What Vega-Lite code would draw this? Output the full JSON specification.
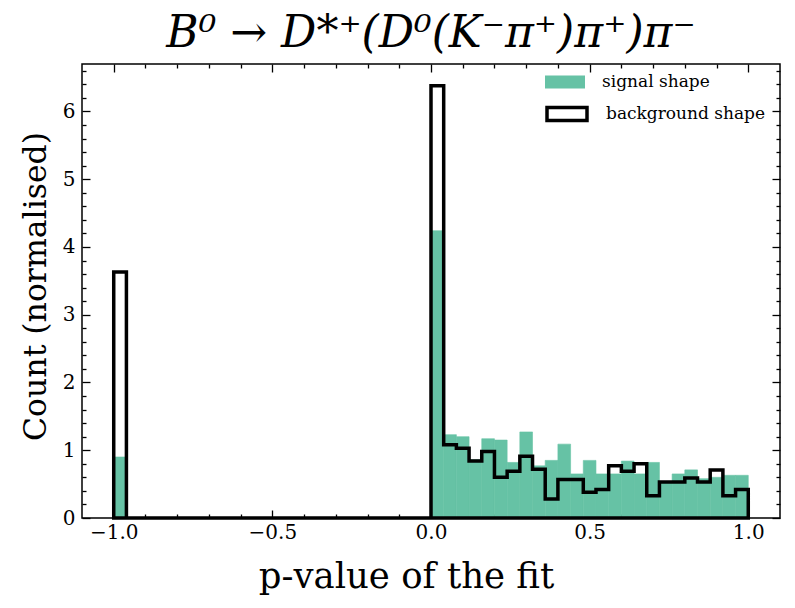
{
  "$schema": "https://vega.github.io/schema/vega-lite/v6.json",
  "width": 698,
  "height": 454,
  "autosize": "none",
  "padding": {"left": 82, "top": 64, "right": 15, "bottom": 90},
  "background": "white",
  "title": {
    "text": "B⁰ → D*⁺(D⁰(K⁻π⁺)π⁺)π⁻",
    "font": "DejaVu Serif",
    "fontStyle": "italic",
    "fontWeight": "normal",
    "fontSize": 44,
    "color": "black",
    "anchor": "middle",
    "baseline": "bottom",
    "offset": -39
  },
  "data": {
    "values": [
      {"lo": -1.00, "hi": -0.96, "signal": 0.90, "background": 3.63},
      {"lo": -0.96, "hi": -0.92, "signal": 0, "background": 0},
      {"lo": -0.92, "hi": -0.88, "signal": 0, "background": 0},
      {"lo": -0.88, "hi": -0.84, "signal": 0, "background": 0},
      {"lo": -0.84, "hi": -0.80, "signal": 0, "background": 0},
      {"lo": -0.80, "hi": -0.76, "signal": 0, "background": 0},
      {"lo": -0.76, "hi": -0.72, "signal": 0, "background": 0},
      {"lo": -0.72, "hi": -0.68, "signal": 0, "background": 0},
      {"lo": -0.68, "hi": -0.64, "signal": 0, "background": 0},
      {"lo": -0.64, "hi": -0.60, "signal": 0, "background": 0},
      {"lo": -0.60, "hi": -0.56, "signal": 0, "background": 0},
      {"lo": -0.56, "hi": -0.52, "signal": 0, "background": 0},
      {"lo": -0.52, "hi": -0.48, "signal": 0, "background": 0},
      {"lo": -0.48, "hi": -0.44, "signal": 0, "background": 0},
      {"lo": -0.44, "hi": -0.40, "signal": 0, "background": 0},
      {"lo": -0.40, "hi": -0.36, "signal": 0, "background": 0},
      {"lo": -0.36, "hi": -0.32, "signal": 0, "background": 0},
      {"lo": -0.32, "hi": -0.28, "signal": 0, "background": 0},
      {"lo": -0.28, "hi": -0.24, "signal": 0, "background": 0},
      {"lo": -0.24, "hi": -0.20, "signal": 0, "background": 0},
      {"lo": -0.20, "hi": -0.16, "signal": 0, "background": 0},
      {"lo": -0.16, "hi": -0.12, "signal": 0, "background": 0},
      {"lo": -0.12, "hi": -0.08, "signal": 0, "background": 0},
      {"lo": -0.08, "hi": -0.04, "signal": 0, "background": 0},
      {"lo": -0.04, "hi": 0.00, "signal": 0, "background": 0},
      {"lo": 0.00, "hi": 0.04, "signal": 4.24, "background": 6.38},
      {"lo": 0.04, "hi": 0.08, "signal": 1.23, "background": 1.08},
      {"lo": 0.08, "hi": 0.12, "signal": 1.20, "background": 1.03},
      {"lo": 0.12, "hi": 0.16, "signal": 0.86, "background": 0.84},
      {"lo": 0.16, "hi": 0.20, "signal": 1.17, "background": 0.98},
      {"lo": 0.20, "hi": 0.24, "signal": 1.15, "background": 0.60},
      {"lo": 0.24, "hi": 0.28, "signal": 0.82, "background": 0.69},
      {"lo": 0.28, "hi": 0.32, "signal": 1.27, "background": 0.91},
      {"lo": 0.32, "hi": 0.36, "signal": 0.77, "background": 0.72},
      {"lo": 0.36, "hi": 0.40, "signal": 0.85, "background": 0.28},
      {"lo": 0.40, "hi": 0.44, "signal": 1.09, "background": 0.57},
      {"lo": 0.44, "hi": 0.48, "signal": 0.65, "background": 0.57},
      {"lo": 0.48, "hi": 0.52, "signal": 0.85, "background": 0.38},
      {"lo": 0.52, "hi": 0.56, "signal": 0.65, "background": 0.42},
      {"lo": 0.56, "hi": 0.60, "signal": 0.65, "background": 0.77},
      {"lo": 0.60, "hi": 0.64, "signal": 0.84, "background": 0.69},
      {"lo": 0.64, "hi": 0.68, "signal": 0.65, "background": 0.80},
      {"lo": 0.68, "hi": 0.72, "signal": 0.82, "background": 0.33},
      {"lo": 0.72, "hi": 0.76, "signal": 0.52, "background": 0.53},
      {"lo": 0.76, "hi": 0.80, "signal": 0.65, "background": 0.53},
      {"lo": 0.80, "hi": 0.84, "signal": 0.71, "background": 0.59},
      {"lo": 0.84, "hi": 0.88, "signal": 0.58, "background": 0.53},
      {"lo": 0.88, "hi": 0.92, "signal": 0.60, "background": 0.71},
      {"lo": 0.92, "hi": 0.96, "signal": 0.63, "background": 0.33},
      {"lo": 0.96, "hi": 1.00, "signal": 0.63, "background": 0.42}
    ]
  },
  "resolve": {"axis": {"x": "independent", "y": "independent"}},
  "layer": [
    {
      "mark": {"type": "bar", "stroke": "#66c2a5", "strokeWidth": 0.6},
      "encoding": {
        "x": {
          "field": "lo",
          "type": "quantitative",
          "scale": {"domain": [-1.1, 1.1], "nice": false, "zero": false},
          "axis": {
            "orient": "bottom",
            "title": "p-value of the fit",
            "titleFontSize": 35.5,
            "titlePadding": 13,
            "titleX": 324,
            "values": [-1.0, -0.9, -0.8, -0.7, -0.6, -0.5, -0.4, -0.3, -0.2, -0.1, 0.0, 0.1, 0.2, 0.3, 0.4, 0.5, 0.6, 0.7, 0.8, 0.9, 1.0],
            "labelExpr": "abs(datum.value * 2 - round(datum.value * 2)) < 0.001 ? format(datum.value, '.1f') : ''",
            "tickSize": {"condition": {"test": "abs(datum.value * 2 - round(datum.value * 2)) < 0.001", "value": -8}, "value": -4},
            "labelPadding": 12,
            "labelFontSize": 20
          }
        },
        "x2": {"field": "hi"},
        "y": {
          "field": "signal",
          "type": "quantitative",
          "scale": {"domain": [0, 6.7], "nice": false},
          "axis": {
            "orient": "left",
            "title": "Count (normalised)",
            "titleFontSize": 31.5,
            "titlePadding": 10,
            "titleY": 222,
            "values": [0, 0.2, 0.4, 0.6, 0.8, 1, 1.2, 1.4, 1.6, 1.8, 2, 2.2, 2.4, 2.6, 2.8, 3, 3.2, 3.4, 3.6, 3.8, 4, 4.2, 4.4, 4.6, 4.8, 5, 5.2, 5.4, 5.6, 5.8, 6, 6.2, 6.4, 6.6],
            "labelExpr": "abs(datum.value - round(datum.value)) < 0.001 ? format(datum.value, '.0f') : ''",
            "tickSize": {"condition": {"test": "abs(datum.value - round(datum.value)) < 0.001", "value": -8}, "value": -4},
            "labelPadding": 15,
            "labelFontSize": 20
          }
        },
        "y2": {"datum": 0},
        "fill": {
          "datum": "signal shape",
          "type": "nominal",
          "scale": {"domain": ["signal shape"], "range": ["#66c2a5"]},
          "legend": {
            "title": null,
            "orient": "none",
            "legendX": 473,
            "legendY": 8,
            "padding": 0,
            "labelFont": "DejaVu Serif",
            "labelFontSize": 17,
            "labelColor": "black",
            "symbolType": "M-2,-0.64H2V0.64H-2Z",
            "symbolSize": 400,
            "labelOffset": 27,
            "symbolOpacity": 1,
            "symbolStrokeWidth": 0
          }
        }
      }
    },
    {
      "transform": [{"fold": ["lo", "hi"], "as": ["edge", "x"]}],
      "mark": {"type": "area", "fill": "white", "fillOpacity": 0, "strokeWidth": 3.5, "strokeJoin": "miter", "interpolate": "linear"},
      "encoding": {
        "x": {
          "field": "x",
          "type": "quantitative",
          "axis": {
            "orient": "top",
            "title": null,
            "labels": false,
            "values": [-1.0, -0.9, -0.8, -0.7, -0.6, -0.5, -0.4, -0.3, -0.2, -0.1, 0.0, 0.1, 0.2, 0.3, 0.4, 0.5, 0.6, 0.7, 0.8, 0.9, 1.0],
            "tickSize": {"condition": {"test": "abs(datum.value * 2 - round(datum.value * 2)) < 0.001", "value": -8}, "value": -4}
          }
        },
        "y": {
          "field": "background",
          "type": "quantitative",
          "stack": null,
          "axis": {
            "orient": "right",
            "title": null,
            "labels": false,
            "values": [0, 0.2, 0.4, 0.6, 0.8, 1, 1.2, 1.4, 1.6, 1.8, 2, 2.2, 2.4, 2.6, 2.8, 3, 3.2, 3.4, 3.6, 3.8, 4, 4.2, 4.4, 4.6, 4.8, 5, 5.2, 5.4, 5.6, 5.8, 6, 6.2, 6.4, 6.6],
            "tickSize": {"condition": {"test": "abs(datum.value - round(datum.value)) < 0.001", "value": -8}, "value": -4}
          }
        },
        "stroke": {
          "datum": "background shape",
          "type": "nominal",
          "scale": {"domain": ["background shape"], "range": ["black"]},
          "legend": {
            "title": null,
            "orient": "none",
            "legendX": 473,
            "legendY": 38,
            "padding": 0,
            "labelFont": "DejaVu Serif",
            "labelFontSize": 17,
            "labelColor": "black",
            "symbolType": "M-2,-0.64H2V0.64H-2Z",
            "symbolSize": 400,
            "labelOffset": 27,
            "symbolFillColor": "white",
            "symbolStrokeWidth": 3.5,
            "symbolOpacity": 1,
            "encode": {
              "symbols": {
                "update": {
                  "fill": {"value": "white"},
                  "fillOpacity": {"value": 1}
                }
              }
            }
          }
        },
        "order": [{"field": "x", "type": "quantitative"}, {"field": "edge", "type": "ordinal"}]
      }
    }
  ],
  "config": {
    "font": "DejaVu Serif",
    "view": {"stroke": "black", "strokeWidth": 1.5},
    "axis": {
      "domain": false,
      "grid": false,
      "ticks": true,
      "tickColor": "black",
      "tickWidth": 1.3,
      "labelColor": "black",
      "titleColor": "black",
      "labelFont": "DejaVu Serif",
      "titleFont": "DejaVu Serif",
      "titleFontWeight": "normal",
      "labelOverlap": false,
      "labelFlush": false,
      "labelBound": false
    }
  }
}
